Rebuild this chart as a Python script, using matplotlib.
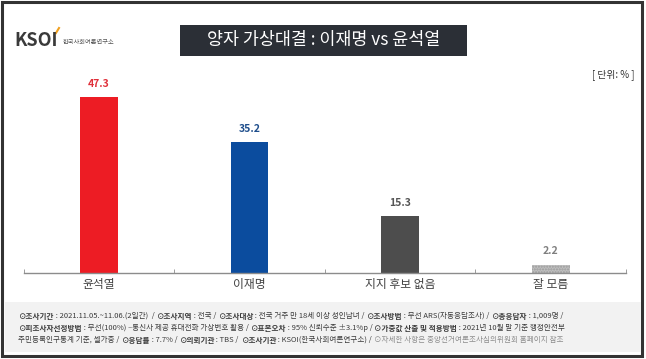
import matplotlib
matplotlib.use("Agg")
import matplotlib.pyplot as plt
from matplotlib.patches import Rectangle

plt.rcParams['font.family'] = ['Noto Sans CJK KR', 'DejaVu Sans']

categories = ["윤석열", "이재명", "지지 후보 없음", "잘 모름"]
values = [47.3, 35.2, 15.3, 2.2]
bar_colors = ["#ED1C24", "#0B4C9E", "#4D4D4D", "#BFBFBF"]
label_colors = ["#E0303A", "#1F4E8C", "#555555", "#7F7F7F"]
title = "양자 가상대결 : 이재명 vs 윤석열"
unit = "[ 단위: % ]"
# bold parts between ** **
notes = [
    "**⊙조사기간** : 2021.11.05.~11.06.(2일간)  / **⊙조사지역** : 전국 / **⊙조사대상** : 전국 거주 만 18세 이상 성인남녀 / **⊙조사방법** : 무선 ARS(자동응답조사) / **⊙총응답자** : 1,009명 /",
    "**⊙피조사자선정방법** : 무선(100%) –통신사 제공 휴대전화 가상번호 활용 / **⊙표본오차** : 95% 신뢰수준 ±3.1%p / **⊙가중값 산출 및 적용방법** : 2021년 10월 말 기준 행정안전부",
    "주민등록인구통계 기준, 셀가중 / **⊙응답률** : 7.7% / **⊙의뢰기관** : TBS / **⊙조사기관** : KSOI(한국사회여론연구소) / ",
]
note_tail = "⊙자세한 사항은 중앙선거여론조사심의위원회 홈페이지 참조"

W, H = 646, 359
fig = plt.figure(figsize=(W / 100, H / 100), dpi=100)
fig.patch.set_facecolor("white")

def fx(px):
    return px / W

def fy(py):
    return 1 - py / H

# outer frame
fig.patches.append(Rectangle((fx(2), fy(356)), fx(642) - fx(2), fy(2) - fy(356),
                             transform=fig.transFigure, fill=False,
                             edgecolor="#333333", linewidth=2.2))
# footer box
fig.patches.append(Rectangle((fx(5), fy(352)), fx(641) - fx(5), fy(302) - fy(352),
                             transform=fig.transFigure, facecolor="#F2F2F2",
                             edgecolor="none"))
# title box
fig.patches.append(Rectangle((fx(180), fy(56)), fx(467) - fx(180), fy(25) - fy(56),
                             transform=fig.transFigure, facecolor="#2B2F36",
                             edgecolor="none"))
fig.text(fx(323.5), fy(40.5), title, color="white", fontsize=12.5,
         ha="center", va="center")

# logo
fig.text(fx(14), fy(41), "KSOI", color="#3A3A3A", fontsize=13, fontweight="bold",
         ha="left", va="center")
fig.lines.append(plt.Line2D([fx(56), fx(59)], [fy(33), fy(28)], transform=fig.transFigure,
                            color="#F0A020", linewidth=1.5))
fig.text(fx(63), fy(42), "한국사회여론연구소", color="#555555", fontsize=4.5,
         ha="left", va="center")

fig.text(fx(634), fy(75), unit, color="#333333", fontsize=7, ha="right", va="center")

# chart
ax = fig.add_axes([fx(23.5), fy(272.7), fx(626) - fx(23.5), fy(80) - fy(272.7)])
x = range(len(categories))
bars = ax.bar(x, values, width=0.25, color=bar_colors, zorder=2)
bars[3].set_hatch("......")
bars[3].set_edgecolor("#9A9A9A")
bars[3].set_linewidth(0)
for xi, v, c in zip(x, values, label_colors):
    ax.text(xi, v + 2.2, f"{v}", ha="center", va="bottom", fontsize=7.5,
            fontweight="bold", color=c)
ax.set_xlim(-0.5, 3.5)
ax.set_ylim(0, 52)
ax.set_yticks([])
for s in ["left", "right", "top"]:
    ax.spines[s].set_visible(False)
ax.spines["bottom"].set_color("#8C8C8C")
ax.spines["bottom"].set_linewidth(1)
ax.set_xticks(list(x))
ax.set_xticklabels(categories, fontsize=8.5, color="#404040")
ax.tick_params(axis="x", which="major", length=0, pad=4)
ax.set_xticks([-0.5, 0.5, 1.5, 2.5, 3.5], minor=True)
ax.tick_params(axis="x", which="minor", direction="in", length=3, color="#8C8C8C")
ax.set_facecolor("none")

# footer notes, drawn piece by piece so the labels can be bold
renderer = fig.canvas.get_renderer()
ys = [316, 328, 340]
fs = 5.45
end_x = 0
for yy, line in zip(ys, notes):
    cur = fx(18)
    for i, part in enumerate(line.split("**")):
        if not part:
            continue
        t = fig.text(cur, fy(yy), part, color="#3A3A3A", fontsize=fs,
                     fontweight="bold" if i % 2 else "normal",
                     ha="left", va="center")
        bb = t.get_window_extent(renderer)
        cur = bb.x1 / (fig.dpi * fig.get_figwidth())
    end_x = cur
fig.text(end_x, fy(ys[2]), note_tail, color="#8C8C8C", fontsize=fs,
         ha="left", va="center")

fig.savefig("out.png", dpi=100)
